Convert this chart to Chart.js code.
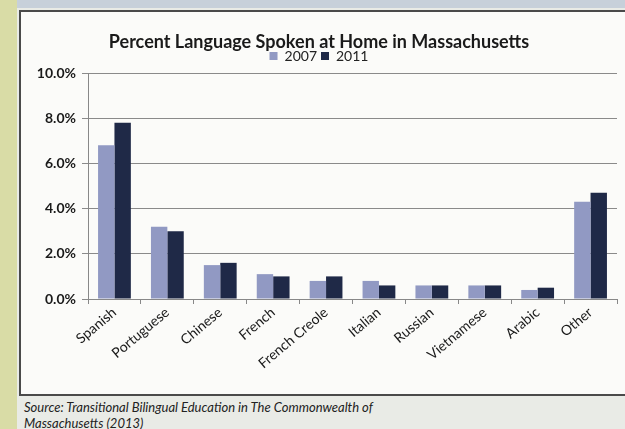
<!DOCTYPE html>
<html>
<head>
<meta charset="utf-8">
<script src="https://cdn.jsdelivr.net/npm/chart.js@4/dist/chart.umd.min.js"></script>
<style>
  html, body { margin: 0; padding: 0; }
  body { width: 625px; height: 429px; background: #e9ebe6; position: relative; overflow: hidden; font-family: Lato, "Open Sans", sans-serif; }
  #strip { position: absolute; left: 0; top: 0; width: 17px; height: 429px; background: #d9dca6; }
  #topband { position: absolute; left: 17px; top: 0; width: 608px; height: 8px; background: #c7d0da; }
  #box { position: absolute; left: 19px; top: 10px; width: 604px; height: 382px; background: #fbfbf9; border: 2px solid #4a4a4a; border-right: none; }
  #wrap { position: absolute; left: 0; top: 0; width: 604px; height: 382px; }
  #src { position: absolute; left: 24px; top: 399px; font-style: italic; font-size: 13px; color: #222; line-height: 16px; white-space: nowrap; }
</style>
</head>
<body>
<div id="strip"></div>
<div id="topband"></div>
<div id="box"><div id="wrap"><canvas id="c"></canvas></div></div>
<div id="src">Source: Transitional Bilingual Education in The Commonwealth of<br>Massachusetts (2013)</div>
<script>
const categories = ["Spanish", "Portuguese", "Chinese", "French", "French Creole", "Italian", "Russian", "Vietnamese", "Arabic", "Other"];
const values2007 = [6.8, 3.2, 1.5, 1.1, 0.8, 0.8, 0.6, 0.6, 0.4, 4.3];
const values2011 = [7.8, 3.0, 1.6, 1.0, 1.0, 0.6, 0.6, 0.6, 0.5, 4.7];
const seriesLabels = ["2007", "2011"];
const titleText = "Percent Language Spoken at Home in Massachusetts";

new Chart(document.getElementById('c'), {
  type: 'bar',
  data: {
    labels: categories,
    datasets: [
      { label: seriesLabels[0], data: values2007, backgroundColor: '#9199c3', categoryPercentage: 0.62, barPercentage: 1.0 },
      { label: seriesLabels[1], data: values2011, backgroundColor: '#1f2947', categoryPercentage: 0.62, barPercentage: 1.0 }
    ]
  },
  options: {
    responsive: true,
    maintainAspectRatio: false,
    animation: false,
    layout: { padding: { left: 0, right: 8, top: 21, bottom: 0 } },
    plugins: {
      title: { display: true, text: titleText, color: '#1a1a1a', font: { family: 'Lato', size: 18, weight: 'bold', lineHeight: 1.0 }, padding: { top: 0, bottom: -6 } },
      legend: { display: true, position: 'top', labels: { color: '#222', font: { family: 'Lato', size: 14 }, boxWidth: 8, boxHeight: 8, padding: 4 } },
      tooltip: { enabled: false }
    },
    scales: {
      x: {
        grid: { display: true, drawOnChartArea: false, offset: true, tickLength: 5, color: '#888' },
        border: { color: '#888' },
        ticks: { color: '#1a1a1a', font: { family: 'Lato', size: 14 }, maxRotation: 40, minRotation: 40, padding: 0 },
        afterFit: (s) => { s.height = 95; }
      },
      y: {
        min: 0, max: 10,
        grid: { color: '#8a8a8a', tickLength: 6 },
        border: { color: '#888' },
        ticks: { stepSize: 2, color: '#1a1a1a', font: { family: 'Lato', size: 14, weight: 'bold' }, padding: 6, callback: (v) => v.toFixed(1) + '%' },
        afterFit: (s) => { s.width = 67; }
      }
    }
  }
});
</script>
</body>
</html>
